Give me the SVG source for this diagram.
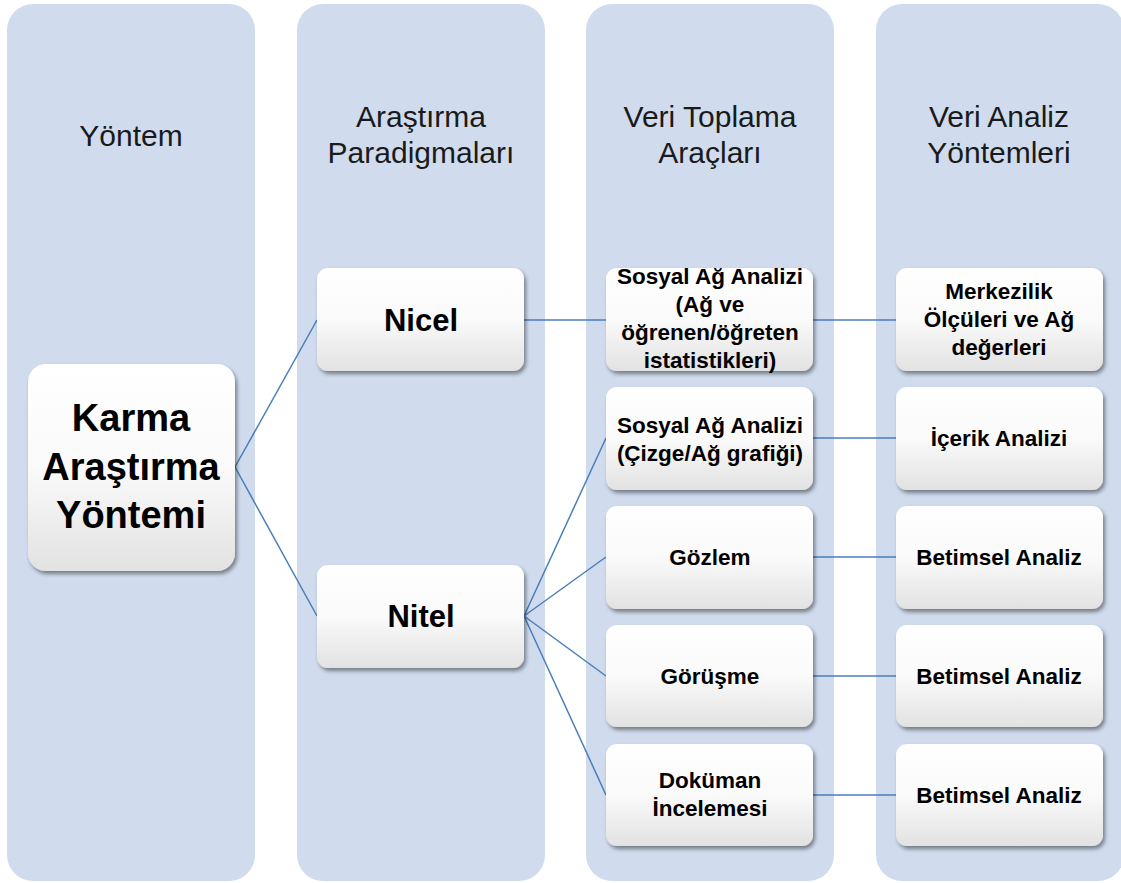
<svg xmlns="http://www.w3.org/2000/svg" width="1121" height="883" viewBox="0 0 1121 883">
  <defs>
    <linearGradient id="nodeFill" x1="0" y1="0" x2="0" y2="1">
      <stop offset="0" stop-color="#ffffff"/>
      <stop offset="0.5" stop-color="#fafafa"/>
      <stop offset="1" stop-color="#e2e2e2"/>
    </linearGradient>
    <filter id="shadow" x="-10%" y="-10%" width="125%" height="130%">
      <feGaussianBlur in="SourceAlpha" stdDeviation="2"/>
      <feOffset dx="1.5" dy="2.5" result="b"/>
      <feComponentTransfer><feFuncA type="linear" slope="0.45"/></feComponentTransfer>
      <feMerge><feMergeNode/><feMergeNode in="SourceGraphic"/></feMerge>
    </filter>
    <style>
      .lane { fill: #d0dcee; }
      .head { font-family: "Liberation Sans", Arial, sans-serif; font-size: 30px; fill: #1a1a1a; text-anchor: middle; }
      .box { fill: url(#nodeFill); filter: url(#shadow); }
      .t { font-family: "Liberation Sans", Arial, sans-serif; font-weight: bold; fill: #000; text-anchor: middle; }
      .s { font-size: 22.5px; }
      .m { font-size: 31px; }
      .l { font-size: 38px; }
      .link { stroke: #4a7ebb; stroke-width: 1.5; fill: none; }
    </style>
  </defs>
  <rect width="1121" height="883" fill="#ffffff"/>

  <!-- column lanes -->
  <g id="lanes">
    <rect class="lane" x="7" y="4" width="248" height="877" rx="26"/>
    <rect class="lane" x="297" y="4" width="248" height="877" rx="26"/>
    <rect class="lane" x="586" y="4" width="248" height="877" rx="26"/>
    <rect class="lane" x="876" y="4" width="248" height="877" rx="26"/>
    <text class="head" x="131" y="146">Yöntem</text>
    <text class="head" x="421" y="127">Araştırma</text>
    <text class="head" x="421" y="163">Paradigmaları</text>
    <text class="head" x="710" y="127">Veri Toplama</text>
    <text class="head" x="710" y="163">Araçları</text>
    <text class="head" x="999" y="127">Veri Analiz</text>
    <text class="head" x="999" y="163">Yöntemleri</text>
  </g>

  <!-- connectors -->
  <g id="connectors">
    <path class="link" d="M235,467 L317,320"/>
    <path class="link" d="M235,467 L317,616"/>
    <path class="link" d="M524,320 L606,320"/>
    <path class="link" d="M813,320 L896,320"/>
    <path class="link" d="M524,616 L606,438"/>
    <path class="link" d="M524,616 L606,557"/>
    <path class="link" d="M524,616 L606,676"/>
    <path class="link" d="M524,616 L606,795"/>
    <path class="link" d="M813,438 L896,438"/>
    <path class="link" d="M813,557 L896,557"/>
    <path class="link" d="M813,676 L896,676"/>
    <path class="link" d="M813,795 L896,795"/>
  </g>

  <g id="karma">
    <rect class="box" x="28" y="364" width="207" height="207" rx="18"/>
    <text class="t l" x="131" y="431">Karma</text>
    <text class="t l" x="131" y="480">Araştırma</text>
    <text class="t l" x="131" y="528">Yöntemi</text>
  </g>

  <g id="nicel">
    <rect class="box" x="317" y="268" width="207" height="103" rx="11"/>
    <text class="t m" x="421" y="331">Nicel</text>
  </g>
  <g id="nitel">
    <rect class="box" x="317" y="565" width="207" height="103" rx="11"/>
    <text class="t m" x="421" y="627">Nitel</text>
  </g>

  <g id="sna-stats">
    <rect class="box" x="606" y="268" width="207" height="103" rx="11"/>
    <text class="t s" x="710" y="284">Sosyal Ağ Analizi</text>
    <text class="t s" x="710" y="312">(Ağ ve</text>
    <text class="t s" x="710" y="340">öğrenen/öğreten</text>
    <text class="t s" x="710" y="368">istatistikleri)</text>
  </g>
  <g id="sna-graph">
    <rect class="box" x="606" y="387" width="207" height="103" rx="11"/>
    <text class="t s" x="710" y="433">Sosyal Ağ Analizi</text>
    <text class="t s" x="710" y="461">(Çizge/Ağ grafiği)</text>
  </g>
  <g id="gozlem">
    <rect class="box" x="606" y="506" width="207" height="103" rx="11"/>
    <text class="t s" x="710" y="565">Gözlem</text>
  </g>
  <g id="gorusme">
    <rect class="box" x="606" y="625" width="207" height="102" rx="11"/>
    <text class="t s" x="710" y="684">Görüşme</text>
  </g>
  <g id="dokuman">
    <rect class="box" x="606" y="744" width="207" height="102" rx="11"/>
    <text class="t s" x="710" y="788">Doküman</text>
    <text class="t s" x="710" y="816">İncelemesi</text>
  </g>

  <g id="merkezilik">
    <rect class="box" x="896" y="268" width="207" height="103" rx="11"/>
    <text class="t s" x="999" y="299">Merkezilik</text>
    <text class="t s" x="999" y="327">Ölçüleri ve Ağ</text>
    <text class="t s" x="999" y="355">değerleri</text>
  </g>
  <g id="icerik">
    <rect class="box" x="896" y="387" width="207" height="103" rx="11"/>
    <text class="t s" x="999" y="446">İçerik Analizi</text>
  </g>
  <g id="betimsel-1">
    <rect class="box" x="896" y="506" width="207" height="103" rx="11"/>
    <text class="t s" x="999" y="565">Betimsel Analiz</text>
  </g>
  <g id="betimsel-2">
    <rect class="box" x="896" y="625" width="207" height="102" rx="11"/>
    <text class="t s" x="999" y="684">Betimsel Analiz</text>
  </g>
  <g id="betimsel-3">
    <rect class="box" x="896" y="744" width="207" height="102" rx="11"/>
    <text class="t s" x="999" y="803">Betimsel Analiz</text>
  </g>
</svg>
